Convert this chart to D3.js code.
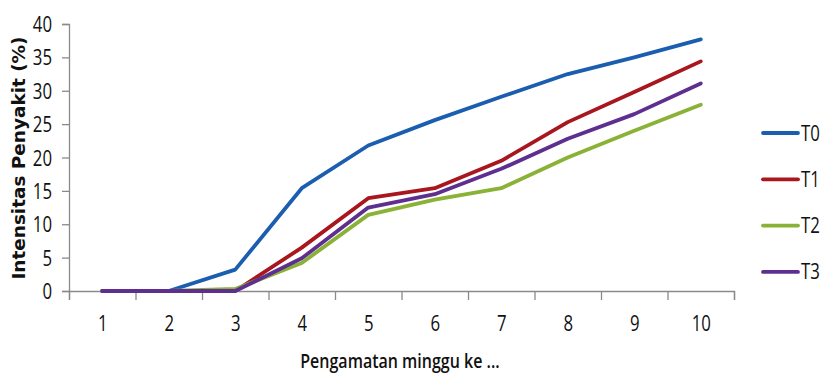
<!DOCTYPE html>
<html>
<head>
<meta charset="utf-8">
<script src="https://cdn.jsdelivr.net/npm/d3@7/dist/d3.min.js"></script>
<style>
  html, body { margin: 0; padding: 0; background: #fff; }
  svg { display: block; }
  .tick text { font-family: "Open Sans", sans-serif; fill: #111; }
</style>
</head>
<body>
<svg id="chart" width="822" height="374"></svg>
<script>
// Observation week
const weeks = [1, 2, 3, 4, 5, 6, 7, 8, 9, 10];
// Disease intensity (%) per treatment
const t0 = [0, 0, 3.2, 15.4, 21.8, 25.6, 29.1, 32.5, 35.0, 37.7];
const t1 = [0, 0, 0, 6.5, 13.9, 15.4, 19.5, 25.3, 29.8, 34.4];
const t2 = [0, 0, 0.3, 4.2, 11.4, 13.7, 15.4, 20.0, 24.0, 27.9];
const t3 = [0, 0, 0, 4.9, 12.5, 14.5, 18.3, 22.8, 26.5, 31.1];
const seriesNames = ["T0", "T1", "T2", "T3"];
const seriesColors = ["#1b5eb0", "#a8161e", "#8ab236", "#5e2f8f"];
const yTicks = [0, 5, 10, 15, 20, 25, 30, 35, 40];

const series = [t0, t1, t2, t3].map((vals, i) => ({ name: seriesNames[i], color: seriesColors[i], vals }));

const svg = d3.select("#chart");
const plotLeft = 69, plotRight = 734, plotTop = 24, plotBottom = 291;
const squeeze = 0.8; // narrow lettering

// horizontally condense text while keeping its anchor point in place
function condense(sel) {
  sel.each(function () {
    const t = d3.select(this);
    const x0 = +t.attr("x") || 0;
    t.attr("x", x0 / squeeze).attr("transform", `scale(${squeeze},1)`);
  });
}

const x = d3.scaleLinear().domain([0.5, 10.5]).range([plotLeft, plotRight]);
const y = d3.scaleLinear().domain([0, 40]).range([plotBottom, plotTop]);

// y axis
const yAxis = svg.append("g")
  .attr("transform", `translate(${plotLeft},0)`)
  .call(d3.axisLeft(y).tickValues(yTicks).tickSize(7).tickPadding(10));
yAxis.selectAll("text").attr("font-size", 21).attr("dy", "0.36em").call(condense);

// x axis: tick marks on the category boundaries
svg.append("g")
  .attr("transform", `translate(0,${plotBottom})`)
  .call(d3.axisBottom(x).tickValues(d3.range(0.5, 11, 1)).tickSize(9).tickFormat(""));
// x axis: category labels at the centres
const xLabels = svg.append("g")
  .attr("transform", `translate(0,${plotBottom})`)
  .call(d3.axisBottom(x).tickValues(weeks).tickSize(0).tickPadding(25).tickFormat(d3.format("d")));
xLabels.select(".domain").remove();
xLabels.selectAll("text").attr("font-size", 21).call(condense);

svg.selectAll(".domain, .tick line").attr("stroke", "#8a8a8a").attr("stroke-width", 1.3);

// lines
const line = d3.line().x((d, i) => x(weeks[i])).y(d => y(d));
svg.append("g").selectAll("path")
  .data(series)
  .join("path")
  .attr("d", d => line(d.vals))
  .attr("fill", "none")
  .attr("stroke", d => d.color)
  .attr("stroke-width", 3.8)
  .attr("stroke-linejoin", "round")
  .attr("stroke-linecap", "round");

// legend
const legend = svg.append("g").selectAll("g")
  .data(series)
  .join("g")
  .attr("transform", (d, i) => `translate(763,${133 + i * 46.3})`);
legend.append("line")
  .attr("x1", 0).attr("x2", 35)
  .attr("stroke", d => d.color)
  .attr("stroke-width", 3.8)
  .attr("stroke-linecap", "round");
legend.append("text")
  .attr("x", 38).attr("dy", "0.36em")
  .attr("font-family", "'Open Sans', sans-serif")
  .attr("font-size", 21)
  .attr("fill", "#111")
  .text(d => d.name)
  .call(condense);

// axis titles
svg.append("text")
  .attr("transform", `translate(25,158) rotate(-90)`)
  .attr("text-anchor", "middle")
  .attr("font-family", "'DejaVu Sans', sans-serif")
  .attr("font-weight", "bold")
  .attr("font-size", 17)
  .attr("textLength", 243)
  .attr("lengthAdjust", "spacingAndGlyphs")
  .attr("fill", "#111")
  .text("Intensitas Penyakit (%)");

svg.append("text")
  .attr("x", 400 / squeeze).attr("y", 368)
  .attr("transform", `scale(${squeeze},1)`)
  .attr("text-anchor", "middle")
  .attr("font-family", "'Open Sans', sans-serif")
  .attr("font-weight", 600)
  .attr("font-size", 20)
  .attr("fill", "#111")
  .text("Pengamatan minggu ke ...");
</script>
</body>
</html>
